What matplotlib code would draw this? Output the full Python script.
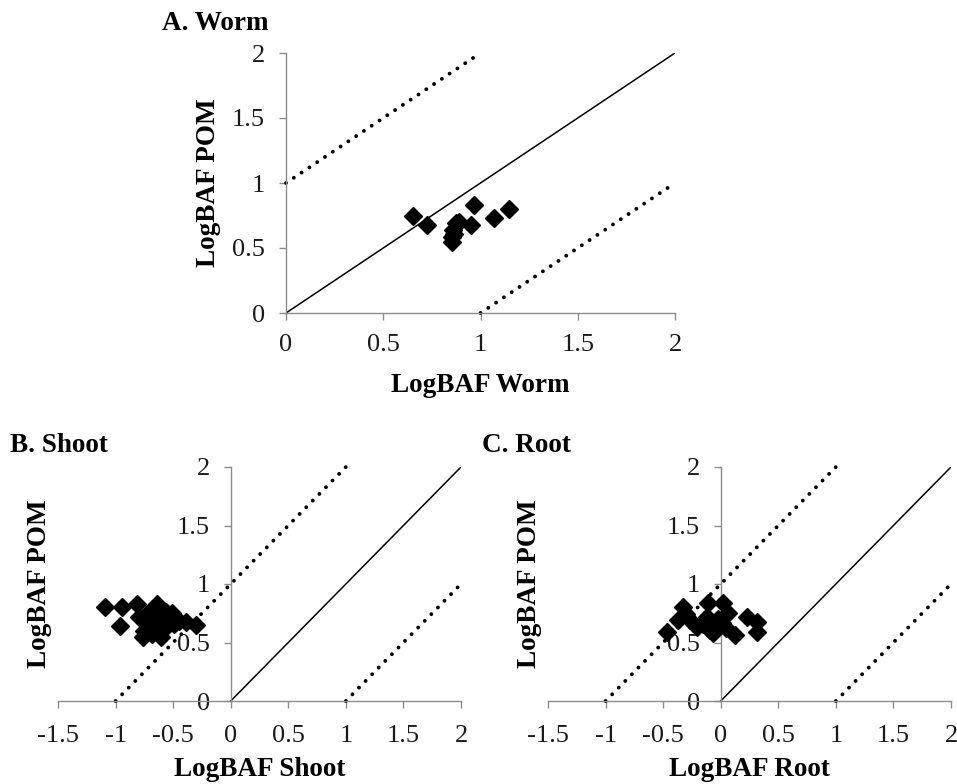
import numpy as np
import matplotlib
matplotlib.use("Agg")
import matplotlib.pyplot as plt

plt.rcParams['font.family'] = ['Liberation Serif', 'DejaVu Serif']

# panel A: worm vs POM
worm_x = [0.653, 0.727, 0.967, 0.875, 0.857, 0.851, 0.851, 0.952, 1.068, 1.145, 0.888, 0.862]
worm_y = [0.744, 0.674, 0.829, 0.692, 0.640, 0.583, 0.549, 0.674, 0.728, 0.800, 0.697, 0.610]

# panel B: shoot vs POM
shoot_x = [-1.09, -0.94, -0.815, -0.636, -0.963, -0.795, -0.564, -0.39, -0.30, -0.68,
           -0.766, -0.607, -0.72, -0.506, -0.56, -0.49, -0.72, -0.62, -0.45, -0.66,
           -0.75, -0.53]
shoot_y = [0.80, 0.80, 0.83, 0.83, 0.64, 0.72, 0.76, 0.675, 0.65, 0.576,
           0.549, 0.549, 0.66, 0.754, 0.634, 0.66, 0.75, 0.70, 0.68, 0.62,
           0.60, 0.70]

# panel C: root vs POM
root_x = [-0.47, -0.325, -0.37, -0.267, -0.21, -0.107, -0.12, -0.064, 0.023, 0.067,
          0.009, 0.125, 0.226, 0.313, 0.313, -0.15, -0.09, -0.02, -0.30, 0.05]
root_y = [0.59, 0.806, 0.69, 0.69, 0.634, 0.834, 0.72, 0.577, 0.834, 0.754,
          0.663, 0.563, 0.72, 0.677, 0.591, 0.66, 0.606, 0.70, 0.74, 0.62]

# reference lines (1:1 and +/- one log unit)
one_to_one = ([0, 2], [0, 2])
upper_A = ([0, 1], [1, 2])
lower_A = ([1, 2], [0, 1])
upper_BC = ([-1, 1], [0, 2])
lower_BC = ([1, 2], [0, 1])

ticks_A = [0, 0.5, 1, 1.5, 2]
ticklabels_A = ['0', '0.5', '1', '1.5', '2']
xticks_BC = [-1.5, -1, -0.5, 0, 0.5, 1, 1.5, 2]
xticklabels_BC = ['-1.5', '-1', '-0.5', '0', '0.5', '1', '1.5', '2']

W, H = 957, 784
fig = plt.figure(figsize=(W / 100, H / 100), dpi=100)

spine_col = '#8c8c8c'
fs_tick = 19
fs_lab = 19.5


def px_axes(l, r, t, b):
    return fig.add_axes([l / W, 1 - b / H, (r - l) / W, (b - t) / H])


def style(ax, xlim, xticks, xlabels, xlabel, ylab_x, xlab_y, xpad):
    ax.set_xlim(*xlim)
    ax.set_ylim(0, 2)
    for s in ['top', 'right']:
        ax.spines[s].set_visible(False)
    ax.spines['left'].set_position(('data', 0))
    for s in ['left', 'bottom']:
        ax.spines[s].set_color(spine_col)
        ax.spines[s].set_linewidth(1.0)
    ax.set_xticks(xticks)
    ax.set_xticklabels(xlabels)
    ax.set_yticks(ticks_A)
    ax.set_yticklabels(ticklabels_A)
    ax.tick_params(direction='out', length=5, width=1.0, color=spine_col,
                   labelsize=fs_tick, labelcolor='#1a1a1a')
    ax.tick_params(axis='x', pad=xpad)
    ax.tick_params(axis='y', pad=10)
    ax.set_xlabel(xlabel, fontsize=fs_lab, fontweight='bold')
    ax.set_ylabel('LogBAF POM', fontsize=fs_lab, fontweight='bold')
    ax.yaxis.set_label_coords(ylab_x, 0.5)
    ax.xaxis.set_label_coords(0.5, xlab_y)
    ax.patch.set_alpha(0)


def draw_lines(ax, up, lo):
    ax.plot(*one_to_one, color='black', lw=1.1, zorder=2)
    for seg in (up, lo):
        ax.plot(*seg, color='black', lw=2.8, linestyle=(0, (0.01, 2.4)),
                dash_capstyle='round', zorder=2, clip_on=False)


axA = px_axes(286, 675, 53, 313)
draw_lines(axA, upper_A, lower_A)
axA.plot(worm_x, worm_y, 'D', color='black', ms=9, zorder=3)
style(axA, (0, 2), ticks_A, ticklabels_A, 'LogBAF Worm', -0.166, -0.23, 10)

axB = px_axes(58, 461, 467, 701)
draw_lines(axB, upper_BC, lower_BC)
axB.plot(shoot_x, shoot_y, 'D', color='black', ms=9, zorder=3)
style(axB, (-1.5, 2), xticks_BC, xticklabels_BC, 'LogBAF Shoot', -0.015, -0.24, 12)

axC = px_axes(548, 951, 467, 701)
draw_lines(axC, upper_BC, lower_BC)
axC.plot(root_x, root_y, 'D', color='black', ms=9, zorder=3)
style(axC, (-1.5, 2), xticks_BC, xticklabels_BC, 'LogBAF Root', -0.015, -0.24, 12)

fig.text(162 / W, 1 - 23 / H, 'A. Worm', fontsize=fs_lab, fontweight='bold', va='center')
fig.text(10 / W, 1 - 446 / H, 'B. Shoot', fontsize=fs_lab, fontweight='bold', va='center')
fig.text(482 / W, 1 - 446 / H, 'C. Root', fontsize=fs_lab, fontweight='bold', va='center')

fig.savefig('out.png', dpi=100)
